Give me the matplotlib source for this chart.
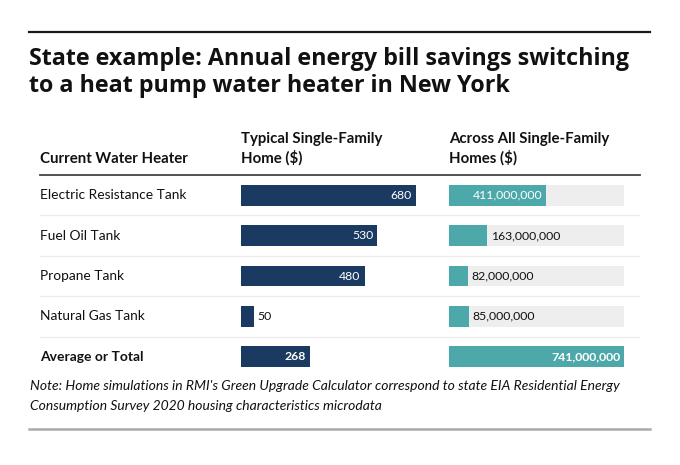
import matplotlib
matplotlib.use("Agg")
import matplotlib.pyplot as plt

categories = ["Electric Resistance Tank", "Fuel Oil Tank", "Propane Tank",
              "Natural Gas Tank", "Average or Total"]
typical_home = [680, 530, 480, 50, 268]
all_homes = [411_000_000, 163_000_000, 82_000_000, 85_000_000, 741_000_000]
typical_labels = ["680", "530", "480", "50", "268"]
all_labels = ["411,000,000", "163,000,000", "82,000,000", "85,000,000", "741,000,000"]

title_lines = ["State example: Annual energy bill savings switching",
               "to a heat pump water heater in New York"]
col_headers = [["Current Water Heater"],
               ["Typical Single-Family", "Home ($)"],
               ["Across All Single-Family", "Homes ($)"]]
note_lines = ["Note: Home simulations in RMI's Green Upgrade Calculator correspond to state EIA Residential Energy",
              "Consumption Survey 2020 housing characteristics microdata"]

NAVY = "#1b3a61"
TEAL = "#4da9a9"
TRACK = "#eeeeee"
FONT = "Lato"
TFONT = "Open Sans"

W, H = 680, 465
fig = plt.figure(figsize=(W / 100, H / 100), dpi=100)
fig.patch.set_facecolor("white")

def fx(px):
    return px / W

def fy(py):
    return 1 - py / H

# top and bottom rules
fig.add_artist(plt.Line2D([fx(29), fx(650)], [fy(32.5), fy(32.5)], color="#1a1a1a", lw=1.6))
fig.add_artist(plt.Line2D([fx(29), fx(650)], [fy(429), fy(429)], color="#aaaaaa", lw=1.8))

for line, base_y in zip(title_lines, [65, 92]):
    fig.text(fx(29), fy(base_y), line, fontsize=16.75, fontweight="bold", family=TFONT,
             va="baseline", ha="left", color="#111111")

table_top, table_bot = 175, 377
n = len(categories)

base = fig.add_axes([fx(40), fy(table_bot), fx(640 - 40), (table_bot - table_top) / H])
base.set_xlim(0, 1)
base.set_ylim(n - 0.5, -0.5)
base.axis("off")
base.axhline(-0.5, color="#444444", lw=1.3, clip_on=False)
for i in range(n - 1):
    base.axhline(i + 0.5, color="#ececec", lw=1.0)
for i, c in enumerate(categories):
    base.text(0, i, c, va="center", ha="left", fontsize=10 if i == n - 1 else 9.9, family=FONT,
              fontweight="bold" if i == n - 1 else "normal", color="#111111")

# headers
for x_px, lines in zip([40, 241, 449], col_headers):
    ys = [163] if len(lines) == 1 else [143.3, 163]
    for line, by in zip(lines, ys):
        fig.text(fx(x_px), fy(by), line, fontsize=10.8, fontweight="bold", family=FONT,
                 va="baseline", ha="left", color="#111111")

def bar_column(left_px, values, labels, color, track):
    ax = fig.add_axes([fx(left_px), fy(table_bot), 175 / W, (table_bot - table_top) / H])
    vmax = max(values)
    ax.set_xlim(0, vmax)
    ax.set_ylim(n - 0.5, -0.5)
    ax.axis("off")
    ys = list(range(n))
    if track:
        ax.barh(ys, [vmax] * n, height=0.51, color=TRACK, lw=0)
    ax.barh(ys, values, height=0.51, color=color, lw=0)
    for i, (v, lab) in enumerate(zip(values, labels)):
        bar_px = v / vmax * 175
        bold = i == n - 1
        if bar_px > len(lab) * 7 + 10:
            ax.annotate(lab, (v, i), xytext=(-2.8, 0), textcoords="offset points",
                        ha="right", va="center", color="white", fontsize=8.8, family=FONT,
                        fontweight="bold" if bold else "normal")
        else:
            ax.annotate(lab, (v, i), xytext=(2.3, 0), textcoords="offset points",
                        ha="left", va="center", color="#111111", fontsize=8.8, family=FONT,
                        fontweight="bold" if bold else "normal")
    return ax

bar_column(241, typical_home, typical_labels, NAVY, False)
bar_column(449, all_homes, all_labels, TEAL, True)

for line, by in zip(note_lines, [390, 410]):
    fig.text(fx(30), fy(by), line, fontsize=10, style="italic", family=FONT,
             va="baseline", ha="left", color="#111111")

fig.savefig("out.png", dpi=100)
